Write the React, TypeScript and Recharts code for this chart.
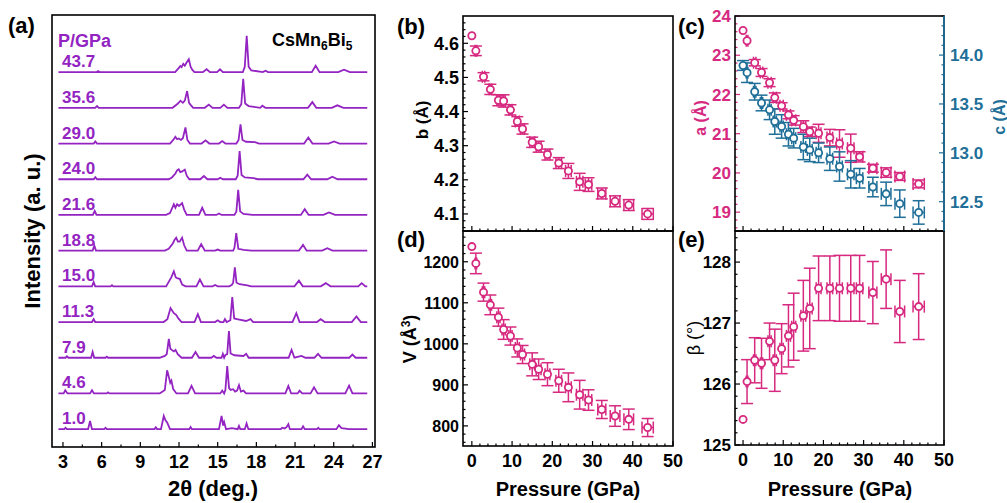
import { LineChart, Line, XAxis, YAxis, ScatterChart, Scatter, ErrorBar } from 'recharts';

const FONT = 'Arial, "Liberation Sans", Helvetica, sans-serif';
const PURPLE = '#9324c2';
const PINK = '#d6297f';
const BLUE = '#1f6f98';
const W = 1007;
const H = 503;

// lattice parameters vs pressure
const pressure = [0, 1.0, 2.9, 4.6, 6.6, 7.9, 9.6, 11.3, 12.6, 15.0, 16.6, 18.8, 21.6, 24.0, 26.8, 29.0, 32.3, 35.6, 39.0, 43.7];
const pressureErr = [0, 0.2, 0.3, 0.3, 0.4, 0.4, 0.4, 0.5, 0.5, 0.6, 0.6, 0.6, 0.7, 0.7, 0.8, 0.8, 1.0, 1.2, 1.2, 1.4];
const bAxis = [4.622, 4.578, 4.502, 4.465, 4.433, 4.431, 4.405, 4.371, 4.349, 4.31, 4.297, 4.274, 4.249, 4.226, 4.194, 4.186, 4.16, 4.137, 4.126, 4.1];
const bErr = [0, 0.014, 0.012, 0.015, 0.016, 0.018, 0.015, 0.014, 0.015, 0.015, 0.016, 0.016, 0.016, 0.022, 0.025, 0.02, 0.016, 0.016, 0.016, 0.016];
const volume = [1237, 1196, 1126, 1095, 1065, 1035, 1019, 990, 974, 950, 938, 926, 910, 894, 876, 863, 840, 824, 816, 796];
const volumeErr = [0, 25, 22, 24, 22, 24, 22, 22, 22, 28, 25, 28, 28, 35, 35, 25, 22, 25, 25, 22];
const aAxis = [23.63, 23.37, 22.81, 22.56, 22.3, 21.92, 21.71, 21.48, 21.34, 21.18, 21.05, 21.01, 20.9, 20.75, 20.63, 20.41, 20.12, 20.01, 19.91, 19.72];
const aErr = [0, 0, 0.08, 0.1, 0.1, 0.12, 0.08, 0.1, 0.12, 0.15, 0.12, 0.23, 0.21, 0.35, 0.36, 0.13, 0.1, 0.12, 0.1, 0.1];
const cAxis = [13.894, 13.82, 13.625, 13.51, 13.44, 13.32, 13.27, 13.19, 13.15, 13.06, 13.03, 13.0, 12.94, 12.86, 12.78, 12.74, 12.65, 12.58, 12.48, 12.39];
const cErr = [0.05, 0.1, 0.085, 0.08, 0.1, 0.13, 0.12, 0.12, 0.1, 0.13, 0.12, 0.1, 0.12, 0.15, 0.14, 0.1, 0.1, 0.12, 0.14, 0.12];
const beta = [125.42, 126.04, 126.39, 126.34, 126.7, 126.39, 126.58, 126.79, 126.94, 127.12, 127.24, 127.57, 127.57, 127.57, 127.57, 127.57, 127.5, 127.72, 127.19, 127.27];
const betaErr = [0, 0.36, 0.37, 0.41, 0.3, 0.51, 0.41, 0.51, 0.55, 0.58, 0.66, 0.53, 0.53, 0.54, 0.54, 0.54, 0.51, 0.48, 0.51, 0.54];

// XRD patterns, [2theta, intensity] vertices, bottom (1.0 GPa) to top (43.7 GPa)
const xrdLabels = ['1.0', '4.6', '7.9', '11.3', '15.0', '18.8', '21.6', '24.0', '29.0', '35.6', '43.7'];
const xrd1_0 = [[2.65, 0], [3.1, 0], [3.2, 0.04], [3.3, 0], [4.95, 0], [5.1, 0.23], [5.25, 0], [6.2, 0], [6.3, 0.04], [6.4, 0], [10.1, 0], [10.2, 0.05], [10.3, 0], [10.6, 0], [10.82, 0.37], [10.95, 0.25], [11.08, 0.19], [11.3, 0], [12.8, 0], [12.9, 0.06], [13.0, 0], [15.1, 0], [15.3, 0.37], [15.42, 0.1], [15.5, 0.2], [15.65, 0], [16.1, 0.03], [16.55, 0], [16.65, 0.09], [16.75, 0], [17.1, 0], [17.24, 0.16], [17.38, 0], [19.9, 0], [20.0, 0.04], [20.2, 0.02], [20.35, 0.06], [20.48, 0.14], [20.6, 0], [21.5, 0], [21.62, 0.08], [21.75, 0], [22.7, 0], [22.8, 0.04], [22.9, 0], [24.2, 0], [24.4, 0.11], [24.6, 0.03], [25.2, 0], [26.6, 0]];
const xrd4_6 = [[2.65, 0], [3.05, 0], [3.18, 0.09], [3.35, 0], [5.1, 0], [5.25, 0.09], [5.4, 0], [6.4, 0], [6.5, 0.03], [6.6, 0], [10.5, 0], [10.7, 0.05], [10.9, 0.1], [11.08, 0.65], [11.22, 0.45], [11.32, 0.3], [11.41, 0.36], [11.55, 0.12], [11.8, 0], [12.7, 0], [12.97, 0.21], [13.25, 0], [15.2, 0], [15.35, 0.08], [15.5, 0], [15.6, 0.1], [15.74, 0.77], [15.88, 0.15], [16.0, 0.1], [16.2, 0.12], [16.35, 0.05], [16.5, 0.08], [16.65, 0.23], [16.8, 0.05], [17.0, 0.08], [17.2, 0], [20.25, 0], [20.48, 0.21], [20.7, 0], [21.2, 0], [21.35, 0.08], [21.55, 0], [22.2, 0], [22.47, 0.17], [22.75, 0], [24.9, 0], [25.19, 0.22], [25.45, 0], [26.6, 0]];
const xrd7_9 = [[2.65, 0], [3.2, 0], [3.31, 0.04], [3.42, 0], [5.18, 0], [5.3, 0.16], [5.42, 0], [6.3, 0], [6.4, 0.03], [6.5, 0], [10.5, 0], [10.9, 0.05], [11.05, 0.1], [11.21, 0.53], [11.33, 0.25], [11.5, 0.2], [11.6, 0.18], [11.73, 0.22], [11.9, 0.1], [12.2, 0], [13.0, 0], [13.28, 0.16], [13.55, 0], [14.5, 0], [14.7, 0.05], [14.9, 0], [15.3, 0], [15.4, 0.11], [15.5, 0], [15.6, 0.08], [15.74, 0.1], [15.87, 0.75], [16.0, 0.12], [16.3, 0.07], [17.0, 0.05], [17.21, 0.11], [17.4, 0], [20.5, 0], [20.73, 0.22], [20.95, 0], [21.5, 0.05], [21.8, 0], [22.5, 0], [22.78, 0.11], [23.05, 0], [25.2, 0], [25.45, 0.09], [25.7, 0], [26.6, 0]];
const xrd11_3 = [[2.65, 0], [5.25, 0], [5.38, 0.08], [5.5, 0], [10.8, 0], [11.1, 0.08], [11.34, 0.39], [11.5, 0.3], [11.6, 0.25], [11.78, 0.2], [11.95, 0.1], [12.2, 0], [13.2, 0], [13.46, 0.22], [13.7, 0], [14.8, 0], [15.0, 0.05], [15.2, 0], [15.45, 0], [15.56, 0.08], [15.7, 0], [15.98, 0.05], [16.13, 0.7], [16.28, 0.1], [16.5, 0.08], [17.2, 0.03], [17.55, 0.08], [17.75, 0], [20.8, 0], [21.1, 0.25], [21.35, 0], [22.7, 0], [22.99, 0.08], [23.3, 0], [25.4, 0], [25.76, 0.16], [26.1, 0], [26.6, 0]];
const xrd15_0 = [[2.65, 0], [5.25, 0], [5.38, 0.12], [5.5, 0], [6.7, 0], [6.8, 0.03], [6.9, 0], [11.0, 0], [11.4, 0.25], [11.6, 0.42], [11.75, 0.25], [11.9, 0.22], [12.06, 0.21], [12.25, 0.05], [12.5, 0], [13.35, 0], [13.62, 0.19], [13.9, 0], [14.6, 0], [14.8, 0.04], [15.0, 0], [15.9, 0], [16.1, 0.04], [16.2, 0.1], [16.33, 0.53], [16.46, 0.1], [16.7, 0.06], [17.3, 0.03], [17.6, 0], [20.95, 0], [21.3, 0.16], [21.6, 0], [23.0, 0], [23.38, 0.09], [23.75, 0], [25.9, 0], [26.17, 0.09], [26.45, 0], [26.6, 0]];
const xrd18_8 = [[2.65, 0], [5.3, 0], [5.43, 0.14], [5.56, 0], [10.9, 0], [11.2, 0.05], [11.52, 0.2], [11.65, 0.3], [11.78, 0.36], [11.92, 0.25], [12.05, 0.25], [12.24, 0.36], [12.4, 0.15], [12.6, 0], [13.45, 0], [13.72, 0.18], [14.0, 0], [14.8, 0], [15.0, 0.03], [15.2, 0], [16.2, 0], [16.3, 0.08], [16.44, 0.49], [16.6, 0.05], [17.0, 0.02], [17.6, 0], [21.3, 0], [21.62, 0.16], [21.9, 0], [23.1, 0], [23.5, 0.07], [23.9, 0], [26.6, 0]];
const xrd21_6 = [[2.65, 0], [5.32, 0], [5.46, 0.11], [5.6, 0], [11.0, 0], [11.3, 0.05], [11.6, 0.3], [11.72, 0.2], [11.85, 0.3], [12.0, 0.25], [12.24, 0.33], [12.4, 0.15], [12.6, 0], [13.55, 0], [13.8, 0.2], [14.05, 0], [14.9, 0], [15.1, 0.04], [15.3, 0], [16.3, 0], [16.45, 0.1], [16.59, 0.7], [16.74, 0.1], [17.0, 0.03], [17.7, 0], [21.45, 0], [21.75, 0.16], [22.05, 0], [23.2, 0], [23.63, 0.07], [24.1, 0], [26.6, 0]];
const xrd24_0 = [[2.65, 0], [5.38, 0], [5.51, 0.06], [5.64, 0], [11.2, 0], [11.45, 0.05], [11.72, 0.16], [11.85, 0.25], [11.98, 0.28], [12.1, 0.2], [12.25, 0.22], [12.45, 0.27], [12.6, 0.1], [12.8, 0], [13.65, 0], [13.93, 0.09], [14.2, 0], [15.0, 0], [15.2, 0.04], [15.4, 0], [16.4, 0], [16.55, 0.1], [16.7, 0.79], [16.85, 0.12], [17.1, 0.05], [17.8, 0.03], [18.1, 0], [21.65, 0], [21.95, 0.13], [22.25, 0], [23.5, 0], [23.89, 0.07], [24.3, 0], [26.6, 0]];
const xrd29_0 = [[2.65, 0], [5.38, 0], [5.51, 0.06], [5.64, 0], [11.3, 0], [11.55, 0.1], [11.72, 0.19], [11.85, 0.12], [11.98, 0.14], [12.15, 0.1], [12.3, 0.15], [12.5, 0.45], [12.65, 0.1], [12.85, 0], [13.75, 0], [14.06, 0.09], [14.35, 0], [15.1, 0], [15.35, 0.07], [15.6, 0], [16.45, 0], [16.62, 0.1], [16.77, 0.54], [16.92, 0.1], [17.2, 0.05], [17.9, 0.04], [18.2, 0], [21.7, 0], [22.03, 0.17], [22.35, 0], [23.6, 0], [24.02, 0.06], [24.45, 0], [26.6, 0]];
const xrd35_6 = [[2.65, 0], [5.5, 0], [5.64, 0.05], [5.78, 0], [11.5, 0], [11.85, 0.1], [12.0, 0.15], [12.11, 0.2], [12.3, 0.14], [12.45, 0.2], [12.63, 0.47], [12.78, 0.14], [12.9, 0.08], [13.1, 0], [14.0, 0], [14.31, 0.09], [14.6, 0], [15.2, 0], [15.48, 0.09], [15.75, 0], [16.65, 0], [16.83, 0.1], [16.98, 0.81], [17.13, 0.12], [17.4, 0.05], [18.3, 0], [18.46, 0.06], [18.7, 0], [22.0, 0], [22.34, 0.16], [22.65, 0], [23.85, 0], [24.28, 0.07], [24.75, 0], [26.6, 0]];
const xrd43_7 = [[2.65, 0], [5.6, 0], [5.72, 0.03], [5.85, 0], [11.7, 0], [11.99, 0.12], [12.1, 0.17], [12.2, 0.14], [12.33, 0.23], [12.45, 0.18], [12.59, 0.27], [12.76, 0.36], [12.9, 0.15], [13.02, 0.07], [13.2, 0], [13.85, 0], [14.14, 0.08], [14.4, 0], [14.95, 0], [15.18, 0.08], [15.4, 0], [16.95, 0], [17.1, 0.15], [17.25, 1.02], [17.4, 0.15], [17.6, 0.05], [18.5, 0], [18.71, 0.04], [18.9, 0], [22.3, 0], [22.6, 0.18], [22.9, 0], [24.35, 0], [24.8, 0.07], [25.25, 0], [26.6, 0]];
const xrdTraces = [xrd1_0, xrd4_6, xrd7_9, xrd11_3, xrd15_0, xrd18_8, xrd21_6, xrd24_0, xrd29_0, xrd35_6, xrd43_7];

const twoThetaTicks = [3, 6, 9, 12, 15, 18, 21, 24, 27];
const pressureTicks = [0, 10, 20, 30, 40, 50];
const bTicks = [4.1, 4.2, 4.3, 4.4, 4.5, 4.6];
const volumeTicks = [800, 900, 1000, 1100, 1200];
const aTicks = [19, 20, 21, 22, 23, 24];
const cTicks = [12.5, 13.0, 13.5, 14.0];
const betaTicks = [125, 126, 127, 128];

type Box = { l: number; t: number; r: number; b: number };
const A: Box = { l: 52, t: 15, r: 375, b: 447 };
const B: Box = { l: 463, t: 16, r: 673, b: 231 };
const D: Box = { l: 463, t: 231, r: 673, b: 446 };
const C: Box = { l: 735, t: 16, r: 944, b: 231 };
const E: Box = { l: 735, t: 231, r: 944, b: 445 };

const YW = 40;
const XH = 30;
const margins = (p: Box, rightAxis = false) => ({
  left: p.l - YW,
  top: p.t,
  right: W - p.r - (rightAxis ? YW : 0),
  bottom: H - p.b - XH,
});

const withMinor = (lo: number, hi: number, step: number) => {
  const out: number[] = [];
  for (let k = 0; lo + k * step <= hi + 1e-9; k++) out.push(Number((lo + k * step).toFixed(6)));
  return out;
};
const isMajor = (majors: number[], v: number) => majors.some((m) => Math.abs(m - v) < 1e-6);

const bottomTick = (majors: number[], labels: boolean, fs: number) => (props: any) => {
  const { x, y, payload } = props;
  const major = isMajor(majors, payload.value);
  return (
    <g>
      <line x1={x} x2={x} y1={y} y2={y - (major ? 5 : 2.5)} stroke="#000" strokeWidth={1.2} />
      {labels && major && (
        <text x={x} y={y + 21} textAnchor="middle" fontSize={fs} fontWeight="bold" fontFamily={FONT} fill="#000">
          {payload.value}
        </text>
      )}
    </g>
  );
};

const leftTick = (majors: number[], fs: number, color: string, digits: number) => (props: any) => {
  const { x, y, payload } = props;
  const major = isMajor(majors, payload.value);
  return (
    <g>
      <line x1={x} x2={x + (major ? 5 : 2.5)} y1={y} y2={y} stroke={color === PINK ? PINK : '#000'} strokeWidth={1.2} />
      {major && (
        <text x={x - 4} y={y + fs * 0.36} textAnchor="end" fontSize={fs} fontWeight="bold" fontFamily={FONT} fill={color}>
          {payload.value.toFixed(digits)}
        </text>
      )}
    </g>
  );
};

const rightTick = (majors: number[], fs: number, color: string, digits: number) => (props: any) => {
  const { x, y, payload } = props;
  const major = isMajor(majors, payload.value);
  return (
    <g>
      <line x1={x} x2={x - (major ? 5 : 2.5)} y1={y} y2={y} stroke={color} strokeWidth={1.2} />
      {major && (
        <text x={x + 6} y={y + fs * 0.36} textAnchor="start" fontSize={fs} fontWeight="bold" fontFamily={FONT} fill={color}>
          {payload.value.toFixed(digits)}
        </text>
      )}
    </g>
  );
};

const ring = (color: string) => (p: any) => (
  <circle cx={p.cx} cy={p.cy} r={3.6} fill="#fff" stroke={color} strokeWidth={1.8} />
);

const points = (ys: number[], errs: number[]) =>
  pressure.map((x, i) => ({ x, y: ys[i], ex: pressureErr[i], ey: errs[i] }));

const layer: React.CSSProperties = { position: 'absolute', left: 0, top: 0 };

function XrdPanel() {
  const ticks = withMinor(3, 27, 1.5);
  return (
    <div style={layer}>
      <LineChart width={W} height={H} margin={margins(A)}>
        <XAxis
          type="number"
          dataKey="x"
          domain={[2.15, 27.2]}
          allowDataOverflow
          ticks={ticks}
          interval={0}
          tickSize={0}
          tickMargin={0}
          axisLine={false}
          tickLine={false}
          height={XH}
          tick={bottomTick(twoThetaTicks, true, 18)}
        />
        <YAxis type="number" domain={[-0.5, 11.6]} allowDataOverflow width={YW} tick={false} axisLine={false} tickLine={false} />
        {xrdTraces.map((t, i) => (
          <Line
            key={xrdLabels[i]}
            data={t.map(([x, y]) => ({ x, y: y + i }))}
            dataKey="y"
            type="linear"
            stroke={PURPLE}
            strokeWidth={1.8}
            dot={false}
            isAnimationActive={false}
          />
        ))}
      </LineChart>
    </div>
  );
}

type Series = { data: ReturnType<typeof points>; color: string; axis: string };

function ScatterPanel(props: {
  box: Box;
  xDomain: [number, number];
  xLabels: boolean;
  yDomain: [number, number];
  yTicks: number[];
  yMajors: number[];
  yFont: number;
  yColor: string;
  yDigits: number;
  series: Series[];
  right?: { domain: [number, number]; ticks: number[]; majors: number[]; color: string };
}) {
  const { box, right } = props;
  const xt = withMinor(0, 50, 2);
  return (
    <div style={layer}>
      <ScatterChart width={W} height={H} margin={margins(box, !!right)}>
        <XAxis
          type="number"
          dataKey="x"
          domain={props.xDomain}
          allowDataOverflow
          ticks={xt}
          interval={0}
          tickSize={0}
          tickMargin={0}
          axisLine={false}
          tickLine={false}
          height={XH}
          tick={bottomTick(pressureTicks, props.xLabels, 18)}
        />
        <YAxis
          yAxisId="left"
          type="number"
          dataKey="y"
          domain={props.yDomain}
          allowDataOverflow
          ticks={props.yTicks}
          interval={0}
          tickSize={0}
          tickMargin={0}
          axisLine={false}
          tickLine={false}
          width={YW}
          tick={leftTick(props.yMajors, props.yFont, props.yColor, props.yDigits)}
        />
        {right && (
          <YAxis
            yAxisId="right"
            orientation="right"
            type="number"
            dataKey="y"
            domain={right.domain}
            allowDataOverflow
            ticks={right.ticks}
            interval={0}
            tickSize={0}
            tickMargin={0}
            axisLine={false}
            tickLine={false}
            width={YW}
            tick={rightTick(right.majors, 17, right.color, 1)}
          />
        )}
        {props.series.map((s, i) => (
          <Scatter key={i} yAxisId={s.axis} data={s.data} shape={ring(s.color)} isAnimationActive={false}>
            <ErrorBar dataKey="ey" direction="y" width={6} stroke={s.color} strokeWidth={1.5} isAnimationActive={false} />
            <ErrorBar dataKey="ex" direction="x" width={6} stroke={s.color} strokeWidth={1.5} isAnimationActive={false} />
          </Scatter>
        ))}
      </ScatterChart>
    </div>
  );
}

const T = (p: any) => <text fontFamily={FONT} fontWeight="bold" {...p} />;

function Overlay() {
  const yPix = (v: number) => A.t + ((11.6 - v) / 12.1) * (A.b - A.t);
  const frame = (p: Box, key: string) => (
    <rect key={key} x={p.l} y={p.t} width={p.r - p.l} height={p.b - p.t} fill="none" stroke="#000" strokeWidth={1.6} />
  );
  return (
    <svg width={W} height={H} style={{ ...layer, pointerEvents: 'none' }}>
      {frame(A, 'a')}
      {frame(B, 'b')}
      {frame(D, 'd')}
      {frame(C, 'c')}
      {frame(E, 'e')}
      <line x1={C.r} x2={C.r} y1={C.t} y2={C.b} stroke={BLUE} strokeWidth={1.8} />

      <T x={8} y={33} fontSize={22}>(a)</T>
      <T x={58} y={47} fontSize={18} fill={PURPLE}>P/GPa</T>
      <T x={272} y={46} fontSize={18}>
        CsMn<tspan dy={4} fontSize={12}>6</tspan>
        <tspan dy={-4}>Bi</tspan>
        <tspan dy={4} fontSize={12}>5</tspan>
      </T>
      {xrdLabels.map((lab, i) => (
        <T key={lab} x={62} y={yPix(i) - 5} fontSize={17} fill={PURPLE}>{lab}</T>
      ))}
      <T x={213} y={496} fontSize={22} textAnchor="middle">2θ (deg.)</T>
      <T transform="translate(40,231) rotate(-90)" fontSize={22} textAnchor="middle">Intensity (a. u.)</T>

      <T x={397} y={34} fontSize={22}>(b)</T>
      <T x={397} y={247} fontSize={22}>(d)</T>
      <T x={678} y={34} fontSize={22}>(c)</T>
      <T x={678} y={247} fontSize={22}>(e)</T>

      <T transform="translate(428,120) rotate(-90)" fontSize={17} textAnchor="middle">b (Å)</T>
      <T transform="translate(416,339) rotate(-90)" fontSize={18} textAnchor="middle">
        V (Å<tspan dy={-6} fontSize={12}>3</tspan><tspan dy={6}>)</tspan>
      </T>
      <T transform="translate(706,118) rotate(-90)" fontSize={16} textAnchor="middle" fill={PINK}>a (Å)</T>
      <T transform="translate(1005,117) rotate(-90)" fontSize={16} textAnchor="middle" fill={BLUE}>c (Å)</T>
      <text transform="translate(700,338) rotate(-90)" fontFamily={FONT} fontSize={18} textAnchor="middle">β (°)</text>

      <T x={568} y={496} fontSize={20} textAnchor="middle">Pressure (GPa)</T>
      <T x={840} y={496} fontSize={20} textAnchor="middle">Pressure (GPa)</T>
    </svg>
  );
}

export default function App() {
  return (
    <div style={{ position: 'absolute', left: 0, top: 0, width: W, height: H, background: '#fff', overflow: 'hidden' }}>
      <XrdPanel />
      <ScatterPanel
        box={B}
        xDomain={[-2.2, 50]}
        xLabels={false}
        yDomain={[4.05, 4.68]}
        yTicks={withMinor(4.06, 4.66, 0.02)}
        yMajors={bTicks}
        yFont={18}
        yColor="#000"
        yDigits={1}
        series={[{ data: points(bAxis, bErr), color: PINK, axis: 'left' }]}
      />
      <ScatterPanel
        box={D}
        xDomain={[-2.2, 50]}
        xLabels={true}
        yDomain={[751, 1275]}
        yTicks={withMinor(760, 1260, 20)}
        yMajors={volumeTicks}
        yFont={16}
        yColor="#000"
        yDigits={0}
        series={[{ data: points(volume, volumeErr), color: PINK, axis: 'left' }]}
      />
      <ScatterPanel
        box={C}
        xDomain={[-2, 50]}
        xLabels={false}
        yDomain={[18.52, 24]}
        yTicks={withMinor(18.6, 24, 0.2)}
        yMajors={aTicks}
        yFont={17}
        yColor={PINK}
        yDigits={0}
        series={[
          { data: points(aAxis, aErr), color: PINK, axis: 'left' },
          { data: points(cAxis, cErr), color: BLUE, axis: 'right' },
        ]}
        right={{ domain: [12.2, 14.4], ticks: withMinor(12.2, 14.4, 0.1), majors: cTicks, color: BLUE }}
      />
      <ScatterPanel
        box={E}
        xDomain={[-2, 50]}
        xLabels={true}
        yDomain={[125, 128.51]}
        yTicks={withMinor(125, 128.4, 0.2)}
        yMajors={betaTicks}
        yFont={17}
        yColor="#000"
        yDigits={0}
        series={[{ data: points(beta, betaErr), color: PINK, axis: 'left' }]}
      />
      <Overlay />
    </div>
  );
}
